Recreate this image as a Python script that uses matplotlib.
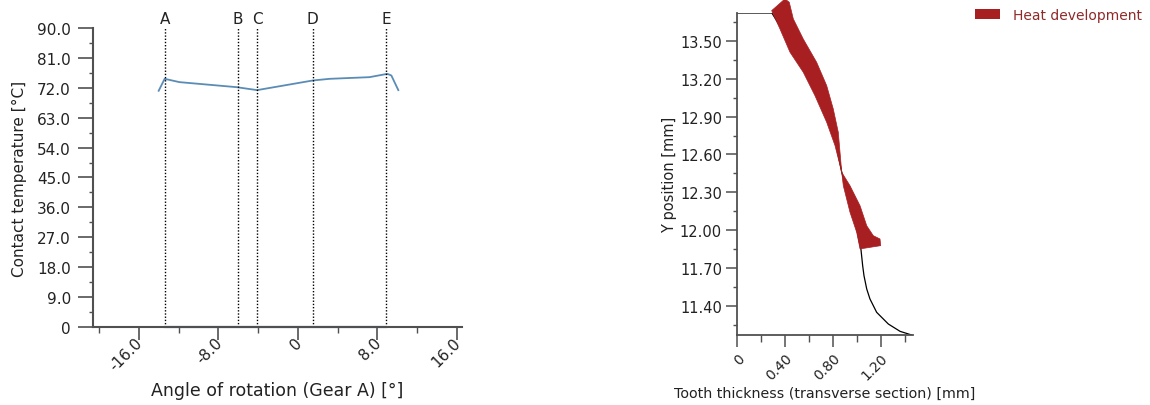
import matplotlib
matplotlib.use("Agg")
import matplotlib.pyplot as plt
from matplotlib.patches import Patch
from matplotlib.transforms import ScaledTranslation
import numpy as np

# --- contact temperature along the path of contact ---
angle = [-14.0, -13.4, -11.9, -6.2, -4.1, 1.5, 3.2, 7.2, 9.0, 9.4, 10.1]
temp = [71.1, 74.7, 73.7, 72.2, 71.3, 74.2, 74.7, 75.2, 76.2, 75.7, 71.3]
zero_angle = [-13.4, 8.9]
zero_temp = [0.0, 0.0]

mark_names = ["A", "B", "C", "D", "E"]
mark_pos = [-13.4, -6.0, -4.1, 1.5, 8.9]

temp_ticks = [0, 9, 18, 27, 36, 45, 54, 63, 72, 81, 90]
temp_labels = ["0", "9.0", "18.0", "27.0", "36.0", "45.0", "54.0", "63.0", "72.0", "81.0", "90.0"]
angle_ticks = [-16, -8, 0, 8, 16]
angle_labels = ["-16.0", "-8.0", "0", "8.0", "16.0"]

# --- tooth profile and heat development band ---
profile_x = [0.0, 0.29, 0.40, 0.60, 0.78, 0.874, 0.98, 1.035, 1.049, 1.06, 1.083, 1.11, 1.166, 1.264, 1.362, 1.459]
profile_y = [13.722, 13.722, 13.55, 13.25, 12.90, 12.458, 12.10, 11.844, 11.717, 11.638, 11.532, 11.453, 11.347, 11.254, 11.196, 11.167]

# band outline: left edge top->bottom, then right edge bottom->top
band_left_x = [0.288, 0.357, 0.441, 0.552, 0.650, 0.748, 0.818, 0.874, 0.887, 0.943, 0.999, 1.027]
band_left_y = [13.741, 13.596, 13.411, 13.252, 13.066, 12.855, 12.669, 12.458, 12.352, 12.141, 11.982, 11.850]
band_right_x = [1.200, 1.194, 1.138, 1.083, 1.027, 0.943, 0.874, 0.845, 0.803, 0.748, 0.664, 0.552, 0.469, 0.435, 0.399]
band_right_y = [11.876, 11.929, 11.955, 12.034, 12.193, 12.352, 12.458, 12.776, 12.961, 13.146, 13.331, 13.516, 13.675, 13.807, 13.834]

y_ticks = [11.40, 11.70, 12.00, 12.30, 12.60, 12.90, 13.20, 13.50]
x_ticks = [0, 0.40, 0.80, 1.20]
x_labels = ["0", "0.40", "0.80", "1.20"]

line_blue = "#5a8cb5"
heat_red = "#a81f22"
spine_col = "#505050"
text_col = "#222222"

plt.rcParams["font.family"] = ["DejaVu Sans"]

fig = plt.figure(figsize=(11.5, 4.06), dpi=100)

# left: temperature plot
ax1 = fig.add_axes([0.0809, 0.1921, 0.3208, 0.7365])
ax1.plot(angle, temp, color=line_blue, lw=1.3)
ax1.plot(zero_angle, zero_temp, color=line_blue, lw=1.6, clip_on=False)
for name, pos in zip(mark_names, mark_pos):
    ax1.axvline(pos, color="black", ls=(0, (1, 1.3)), lw=1.0)
    ax1.text(pos, 92.8, name, ha="center", va="center", fontsize=11, color=text_col)

ax1.set_xlim(-20.6, 16.5)
ax1.set_ylim(0, 90)
ax1.set_yticks(temp_ticks)
ax1.set_yticklabels(temp_labels)
ax1.set_yticks(np.arange(4.5, 90, 9), minor=True)
ax1.set_xticks(angle_ticks)
ax1.set_xticklabels(angle_labels, rotation=45, ha="right", rotation_mode="anchor")
ax1.set_xticks([-20, -12, -4, 4, 12], minor=True)
ax1.tick_params(axis="y", which="major", length=11, width=1.2, pad=5, labelsize=11, colors=spine_col, labelcolor=text_col)
ax1.tick_params(axis="y", which="minor", length=3, width=1.0, colors=spine_col)
ax1.tick_params(axis="x", which="major", length=9.5, width=1.2, pad=3, labelsize=11, colors=spine_col, labelcolor=text_col)
ax1.tick_params(axis="x", which="minor", length=4, width=1.0, colors=spine_col)
shift = ScaledTranslation(-4 / 100, 10 / 100, fig.dpi_scale_trans)
for lab in ax1.get_xticklabels():
    lab.set_transform(lab.get_transform() + shift)
for side in ["top", "right"]:
    ax1.spines[side].set_visible(False)
for side in ["left", "bottom"]:
    ax1.spines[side].set_color(spine_col)
    ax1.spines[side].set_linewidth(1.5)
ax1.set_xlabel("Angle of rotation (Gear A) [°]", fontsize=12.5, color=text_col, labelpad=6)
ax1.set_ylabel("Contact temperature [°C]", fontsize=11, color=text_col, labelpad=7)

# right: tooth flank with heat development
ax2 = fig.add_axes([0.6411, 0.1724, 0.1526, 0.7931])
ax2.plot(profile_x, profile_y, color="black", lw=0.9)
band_x = band_left_x + band_right_x
band_y = band_left_y + band_right_y
ax2.fill(band_x, band_y, color=heat_red, lw=0.5, clip_on=False, zorder=3)

ax2.set_xlim(0, 1.468)
ax2.set_ylim(11.167, 13.722)
ax2.set_yticks(y_ticks)
ax2.set_yticklabels([f"{v:.2f}" for v in y_ticks])
ax2.set_yticks(np.arange(11.25, 13.8, 0.30), minor=True)
ax2.set_xticks(x_ticks)
ax2.set_xticklabels(x_labels, rotation=45, ha="right", rotation_mode="anchor")
ax2.set_xticks([0.2, 0.6, 1.0, 1.4], minor=True)
ax2.tick_params(axis="y", which="major", length=8, width=1.1, pad=3, labelsize=10.5, colors=spine_col, labelcolor=text_col)
ax2.tick_params(axis="y", which="minor", length=3, width=1.0, colors=spine_col)
ax2.tick_params(axis="x", which="major", length=8.5, width=1.1, pad=3, labelsize=10, colors=spine_col, labelcolor=text_col)
ax2.tick_params(axis="x", which="minor", length=5, width=1.0, colors=spine_col)
for side in ["top", "right"]:
    ax2.spines[side].set_visible(False)
for side in ["left", "bottom"]:
    ax2.spines[side].set_color(spine_col)
    ax2.spines[side].set_linewidth(1.3)
ax2.set_xlabel("Tooth thickness (transverse section) [mm]", fontsize=10.3, color=text_col, labelpad=2)
ax2.set_ylabel("Y position [mm]", fontsize=10.5, color=text_col, labelpad=2)

handle = Patch(facecolor=heat_red, edgecolor="none")
fig.legend([handle], ["Heat development"], loc="upper left",
           bbox_to_anchor=(975 / 1150, 0.978), frameon=False, fontsize=10,
           handlelength=1.8, handleheight=0.75, handletextpad=0.95,
           borderpad=0, borderaxespad=0, labelcolor="#8e2a2a")

fig.savefig("out.png", dpi=100)
